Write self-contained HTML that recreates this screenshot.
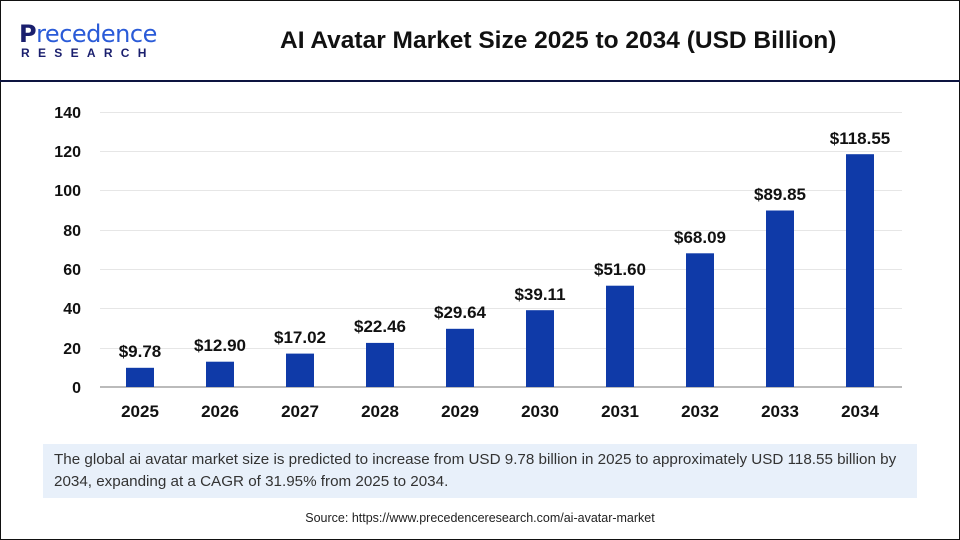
<!DOCTYPE html>
<html><head><meta charset="utf-8"><style>
body{margin:0;width:960px;height:540px;overflow:hidden;background:#fff;font-family:"Liberation Sans",sans-serif}
.frame{position:absolute;left:0;top:0;width:958px;height:538px;border:1px solid #111}
</style></head><body>
<div class="frame"></div>
<div style="position:absolute;left:0;top:80px;width:960px;height:2px;background:#0d1440"></div>
<div style="position:absolute;left:19px;top:20px;font-size:24px;color:#1a1f6e;font-weight:bold;letter-spacing:-0.5px;font-family:'DejaVu Sans',sans-serif">P<span style="color:#2a5bd8;font-weight:normal">recedence</span></div>
<div style="position:absolute;left:21px;top:46px;font-size:12px;color:#1a1f6e;font-weight:bold;letter-spacing:8.3px">RESEARCH</div>
<div style="position:absolute;left:280px;top:27px;font-size:24.5px;font-weight:bold;color:#111">AI Avatar Market Size 2025 to 2034 (USD Billion)</div>
<svg width="960" height="540" style="position:absolute;left:0;top:0" font-family="Liberation Sans, sans-serif" font-weight="bold">
<g stroke="#e6e6e6" stroke-width="1">
<line x1="100" x2="902" y1="112.5" y2="112.5"/><line x1="100" x2="902" y1="151.5" y2="151.5"/><line x1="100" x2="902" y1="190.5" y2="190.5"/><line x1="100" x2="902" y1="230.5" y2="230.5"/><line x1="100" x2="902" y1="269.5" y2="269.5"/><line x1="100" x2="902" y1="308.5" y2="308.5"/><line x1="100" x2="902" y1="348.5" y2="348.5"/>
</g>
<line x1="100" x2="902" y1="387" y2="387" stroke="#bbb" stroke-width="2"/>
<g font-size="16" fill="#111" text-anchor="end">
<text x="81" y="118">140</text><text x="81" y="157">120</text><text x="81" y="196">100</text><text x="81" y="236">80</text><text x="81" y="275">60</text><text x="81" y="314">40</text><text x="81" y="354">20</text><text x="81" y="393">0</text>
</g>
<g fill="#0f3aa8">
<rect x="126" y="367.8" width="28" height="19.2"/>
<rect x="206" y="361.7" width="28" height="25.3"/>
<rect x="286" y="353.6" width="28" height="33.4"/>
<rect x="366" y="342.9" width="28" height="44.1"/>
<rect x="446" y="328.8" width="28" height="58.2"/>
<rect x="526" y="310.2" width="28" height="76.8"/>
<rect x="606" y="285.7" width="28" height="101.3"/>
<rect x="686" y="253.3" width="28" height="133.7"/>
<rect x="766" y="210.5" width="28" height="176.5"/>
<rect x="846" y="154.2" width="28" height="232.8"/>
</g>
<g font-size="17" fill="#111" text-anchor="middle">
<text x="140" y="357">$9.78</text><text x="220" y="351">$12.90</text><text x="300" y="343">$17.02</text><text x="380" y="332">$22.46</text><text x="460" y="318">$29.64</text><text x="540" y="300">$39.11</text><text x="620" y="275">$51.60</text><text x="700" y="243">$68.09</text><text x="780" y="200">$89.85</text><text x="860" y="144">$118.55</text>
</g>
<g font-size="17" fill="#111" text-anchor="middle">
<text x="140" y="417">2025</text><text x="220" y="417">2026</text><text x="300" y="417">2027</text><text x="380" y="417">2028</text><text x="460" y="417">2029</text><text x="540" y="417">2030</text><text x="620" y="417">2031</text><text x="700" y="417">2032</text><text x="780" y="417">2033</text><text x="860" y="417">2034</text>
</g>
</svg>
<div style="position:absolute;left:43px;top:444px;width:874px;height:54px;background:#e8f0fa;padding:5px 0 0 11px;box-sizing:border-box;font-size:15.2px;color:#333;line-height:22px;white-space:nowrap">The global ai avatar market size is predicted to increase from USD 9.78 billion in 2025 to approximately USD 118.55 billion by<br>2034, expanding at a CAGR of 31.95% from 2025 to 2034.</div>
<div style="position:absolute;left:0;width:960px;top:511px;text-align:center;font-size:12.5px;color:#222">Source: https://www.precedenceresearch.com/ai-avatar-market</div>
</body></html>
